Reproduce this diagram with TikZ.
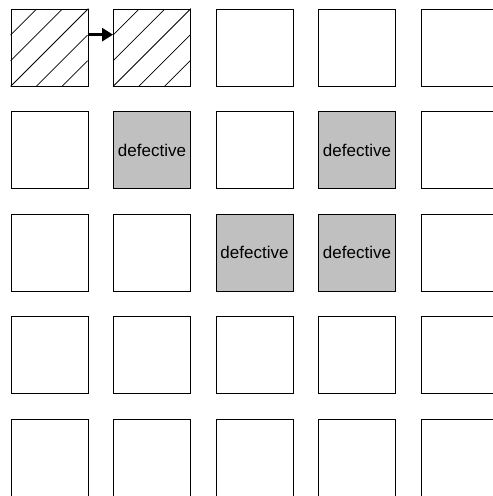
\documentclass[tikz,border=0pt]{standalone}
\usepackage{fontspec}
\setmainfont{Liberation Sans}
\usetikzlibrary{arrows.meta,calc}
\definecolor{defgray}{HTML}{C0C0C0}
\begin{document}
\begin{tikzpicture}[x=1pt,y=1pt,
  cell/.style={draw=black,line width=0.9pt,minimum width=77pt,minimum height=77pt,inner sep=0pt,font=\fontsize{17}{20}\selectfont},
  bad/.style={cell,fill=defgray},
  hatch/.style={draw=black,line width=0.8pt},
  moveto/.style={line width=3pt,-{Triangle[length=11pt,width=13pt]}}
]
\useasboundingbox (0,0) rectangle (493,496);
\clip (0,0) rectangle (493,496);
% row 0
\node[cell] (n00) at (49.5,448.5) {};
\node[cell] (n01) at (152,448.5) {};
\node[cell] (n02) at (254.5,448.5) {};
\node[cell] (n03) at (357,448.5) {};
\node[cell] (n04) at (459.5,448.5) {};
% row 1
\node[cell] (n10) at (49.5,346) {};
\node[bad]  (n11) at (152,346) {defective};
\node[cell] (n12) at (254.5,346) {};
\node[bad]  (n13) at (357,346) {defective};
\node[cell] (n14) at (459.5,346) {};
% row 2
\node[cell] (n20) at (49.5,243.5) {};
\node[cell] (n21) at (152,243.5) {};
\node[bad]  (n22) at (254.5,243.5) {defective};
\node[bad]  (n23) at (357,243.5) {defective};
\node[cell] (n24) at (459.5,243.5) {};
% row 3
\node[cell] (n30) at (49.5,141) {};
\node[cell] (n31) at (152,141) {};
\node[cell] (n32) at (254.5,141) {};
\node[cell] (n33) at (357,141) {};
\node[cell] (n34) at (459.5,141) {};
% row 4
\node[cell] (n40) at (49.5,38.5) {};
\node[cell] (n41) at (152,38.5) {};
\node[cell] (n42) at (254.5,38.5) {};
\node[cell] (n43) at (357,38.5) {};
\node[cell] (n44) at (459.5,38.5) {};
% hatching
\foreach \n in {n00,n01}{
  \draw[hatch] ($(\n.south west)+(0,51.33)$) -- ($(\n.south west)+(25.67,77)$);
  \draw[hatch] ($(\n.south west)+(0,25.67)$) -- ($(\n.south west)+(51.33,77)$);
  \draw[hatch] (\n.south west) -- (\n.north east);
  \draw[hatch] ($(\n.south west)+(25.67,0)$) -- ($(\n.south west)+(77,51.33)$);
  \draw[hatch] ($(\n.south west)+(51.33,0)$) -- ($(\n.south west)+(77,25.67)$);
}
\draw[moveto] ([yshift=12.83pt]n00.east) -- ([yshift=12.83pt]n01.west);
\end{tikzpicture}
\end{document}
